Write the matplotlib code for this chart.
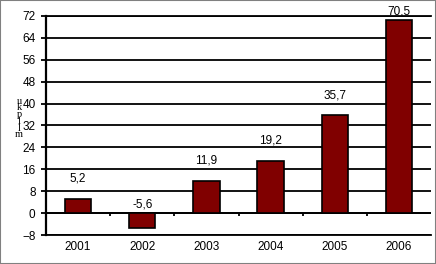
import numpy as np
import matplotlib
matplotlib.use('Agg')
import matplotlib.pyplot as plt
from matplotlib.patches import Rectangle

years = ['2001', '2002', '2003', '2004', '2005', '2006']
values = [5.2, -5.6, 11.9, 19.2, 35.7, 70.5]
ylabel_chars = ['u', 'k', 'p', 'l', 'l', 'm']

plt.rcParams['font.family'] = ['Liberation Sans Narrow', 'Liberation Sans', 'DejaVu Sans']

fig = plt.figure(figsize=(4.36, 2.64), dpi=100)
ax = fig.add_axes([46/436, 1 - 235/264, 385/436, (235 - 16)/264])

x = np.arange(len(years))
ax.bar(x, values, width=0.41, color='#800000', edgecolor='black', linewidth=1.2, zorder=3)

ax.set_xlim(-0.5, len(years) - 0.5)
ax.set_ylim(-8, 72)
ax.set_yticks(np.arange(-8, 73, 8))
ax.grid(axis='y', color='black', linewidth=1.3, zorder=1)

# osie / ramka
ax.spines['right'].set_visible(False)
ax.spines['left'].set_linewidth(1.6)
ax.spines['top'].set_linewidth(1.3)
ax.spines['bottom'].set_linewidth(1.3)

# linia zera z kreskami pomiedzy kategoriami
ax.axhline(0, color='black', linewidth=1.3, zorder=2)
bounds = x[:-1] + 0.5
ax.vlines(bounds, -1.1, 0, color='black', linewidth=1.3, zorder=2)

ax.set_xticks(x, years)
ax.tick_params(axis='x', length=0, pad=4, labelsize=8.5)
ax.tick_params(axis='y', length=3.5, width=1.3, pad=4, labelsize=8.5)

# etykiety wartosci
for xi, v in zip(x, values):
    y = v + 7.3 if v > 0 else 3
    y = min(y, 72 + 1.8)
    ax.text(xi, y, f'{v:.1f}'.replace('.', ','), ha='center', va='center',
            fontsize=8.5, zorder=4)

fig.text(19/436, 1 - 118/264, '\n'.join(ylabel_chars), ha='center', va='center',
         fontsize=7.5, family='Liberation Serif', linespacing=0.68)

fig.patches.append(Rectangle((0, 0), 1, 1, transform=fig.transFigure, fill=False,
                             edgecolor='#808080', linewidth=1.5))

fig.savefig('out.png', dpi=100)
